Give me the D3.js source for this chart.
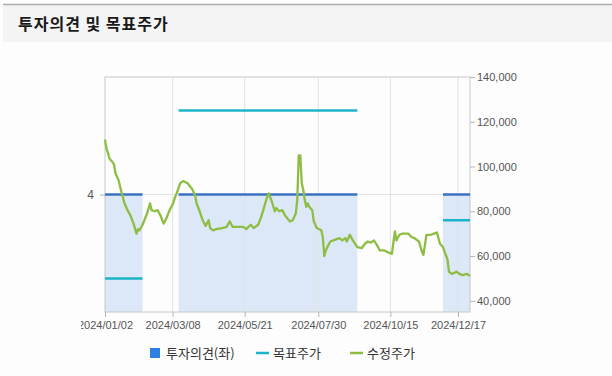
<!DOCTYPE html>
<html>
<head>
<meta charset="utf-8">
<script src="https://cdn.jsdelivr.net/npm/d3@7"></script>
<style>
  body { margin: 0; background: #fdfdfd; }
  svg { display: block; font-family: Arial, "Liberation Sans", sans-serif; }
</style>
</head>
<body>
<svg id="chart" width="612" height="376"></svg>
<script>
// trading-day index (0 = 2024/01/02, 243 = 2024/12/30)
const tickDays = [0, 45, 93, 142, 190, 235];
const tickLabels = ["2024/01/02", "2024/03/08", "2024/05/21", "2024/07/30", "2024/10/15", "2024/12/17"];
const priceTicks = [40000, 60000, 80000, 100000, 120000, 140000];

// 수정주가
const priceDays = [0, 1, 2, 3, 5, 6, 7, 9, 11, 13, 15, 17, 19, 21, 22, 23, 25, 28, 30, 31, 33, 35, 37,
    39, 41, 43, 45, 47, 48, 50, 52, 55, 58, 60, 61, 63, 65, 67, 69, 70, 72, 74, 78,
    81, 83, 85, 89, 92, 94, 97, 99, 102, 104, 106, 108, 109, 111, 113, 114, 116, 118, 120, 123,
    125, 127, 128, 129, 130, 131, 132, 133, 134, 135, 136, 138, 139, 141, 144, 145, 146, 147, 148, 150,
    152, 156, 158, 160, 161, 163, 165, 168, 171, 173, 175, 177, 179, 181, 183, 186, 189, 191, 193, 194,
    196, 198, 202, 204, 206, 209, 211, 212, 213, 214, 217, 219, 221, 223, 225, 226, 228, 229, 231, 234,
    236, 238, 241, 243];
const priceValues = [112000, 108000, 106000, 103500, 102000, 101000, 97000, 94000, 88500, 83500, 80500, 78000, 74500, 70000, 72000, 71500, 74000, 79000, 83500, 80500, 80000, 80500, 78000,
    74500, 77000, 80500, 83000, 87000, 88500, 92500, 93500, 92500, 90000, 87000, 83500, 80000, 76000, 73500, 76000, 72500, 71500, 72000, 72500,
    73000, 75500, 73000, 73000, 73000, 72000, 74000, 72500, 74000, 77500, 82000, 86500, 88000, 84500, 80000, 81500, 80000, 80500, 78000, 75500,
    76000, 79000, 85000, 105000, 105000, 92500, 89500, 85000, 82000, 83500, 82000, 80500, 75500, 72500, 71500, 68500, 60000, 62500, 64000, 66500,
    67000, 68000, 67000, 68000, 66500, 69500, 67000, 64000, 63500, 65500, 66500, 66000, 67000, 65000, 62500, 62500, 61500, 61000, 71000, 67000,
    69500, 70000, 70000, 68500, 68000, 66500, 62000, 60500, 65000, 69500, 69500, 70000, 70500, 65500, 64000, 62000, 58500, 53000, 52000, 53000,
    52000, 51500, 52000, 51000];

// 투자의견 / 목표주가 periods
const opinionStart = [0, 49, 225];
const opinionEnd = [25, 168, 243];
const opinionValue = [4, 4, 4];
const targetValue = [50000, 125000, 76000];

const svg = d3.select("#chart");
const plot = {left: 105, right: 470, top: 77, bottom: 312};

const x = d3.scaleLinear().domain([0, 243]).range([plot.left, plot.right]);
const y = d3.scaleLinear().domain([35000, 140000]).range([plot.bottom, plot.top]);
const yOp = d3.scaleLinear().domain([0, 8]).range([plot.bottom, plot.top]);

// header
svg.append("rect").attr("x", 0).attr("y", 0).attr("width", 612).attr("height", 376).attr("fill", "#fdfdfd");
svg.append("rect").attr("x", 3).attr("y", 5).attr("width", 609).attr("height", 37).attr("fill", "#f4f4f4");
svg.append("line").attr("x1", 3).attr("x2", 612).attr("y1", 4.5).attr("y2", 4.5)
    .attr("stroke", "#adadad").attr("stroke-width", 1.5);
svg.append("text").attr("x", 18).attr("y", 30)
    .attr("font-family", "'Noto Sans CJK KR', sans-serif")
    .attr("font-size", 16).attr("font-weight", 700).attr("letter-spacing", 1)
    .attr("fill", "#1a1a1a")
    .text("투자의견 및 목표주가");

const periods = opinionStart.map((s, i) => ({
    start: s, end: opinionEnd[i], op: opinionValue[i], target: targetValue[i]
}));

// opinion area
svg.append("g").selectAll("rect").data(periods).join("rect")
    .attr("x", d => x(d.start))
    .attr("width", d => x(d.end) - x(d.start))
    .attr("y", d => yOp(d.op))
    .attr("height", d => plot.bottom - yOp(d.op))
    .attr("fill", "#dce7f7");

// grid
svg.append("g").selectAll("line").data(tickDays.slice(1)).join("line")
    .attr("x1", d => x(d)).attr("x2", d => x(d))
    .attr("y1", plot.top).attr("y2", plot.bottom)
    .attr("stroke", "#e3e3e3");
svg.append("line")
    .attr("x1", plot.left).attr("x2", plot.right)
    .attr("y1", yOp(4)).attr("y2", yOp(4))
    .attr("stroke", "#e3e3e3");

// frame
svg.append("rect")
    .attr("x", plot.left).attr("y", plot.top)
    .attr("width", plot.right - plot.left).attr("height", plot.bottom - plot.top)
    .attr("fill", "none").attr("stroke", "#c8c8c8");

// 목표주가
svg.append("g").selectAll("line").data(periods).join("line")
    .attr("x1", d => x(d.start)).attr("x2", d => x(d.end))
    .attr("y1", d => y(d.target)).attr("y2", d => y(d.target))
    .attr("stroke", "#1cb4c9").attr("stroke-width", 2.5);

// 투자의견
svg.append("g").selectAll("line").data(periods).join("line")
    .attr("x1", d => x(d.start)).attr("x2", d => x(d.end))
    .attr("y1", d => yOp(d.op)).attr("y2", d => yOp(d.op))
    .attr("stroke", "#3a72c2").attr("stroke-width", 2.5);

// 수정주가
const priceData = priceDays.map((d, i) => [d, priceValues[i]]);
svg.append("path")
    .datum(priceData)
    .attr("fill", "none")
    .attr("stroke", "#8dbd42")
    .attr("stroke-width", 2.3)
    .attr("stroke-linejoin", "round")
    .attr("d", d3.line().x(d => x(d[0])).y(d => y(d[1])));

// axes
const axisRight = svg.append("g")
    .attr("transform", "translate(" + plot.right + ",0)")
    .call(d3.axisRight(y).tickValues(priceTicks).tickFormat(d3.format(",")).tickSize(5).tickPadding(2));
const axisLeft = svg.append("g")
    .attr("transform", "translate(" + plot.left + ",0)")
    .call(d3.axisLeft(yOp).tickValues([4]).tickSize(5).tickPadding(6));

svg.append("clipPath").attr("id", "clip")
    .append("rect").attr("x", 81).attr("y", 0).attr("width", 531).attr("height", 376);
const axisBottom = svg.append("g")
    .attr("clip-path", "url(#clip)")
    .append("g")
    .attr("transform", "translate(0," + plot.bottom + ")")
    .call(d3.axisBottom(x).tickValues(tickDays).tickFormat((d, i) => tickLabels[i]).tickSize(5).tickPadding(4));

[axisRight, axisLeft, axisBottom].forEach(g => {
    g.select(".domain").remove();
    g.selectAll(".tick line").attr("stroke", "#b5b5b5");
    g.selectAll(".tick text").attr("fill", "#555").attr("font-size", 11)
        .attr("font-family", "Arial, 'Liberation Sans', sans-serif");
});
axisLeft.selectAll(".tick text").attr("font-size", 12);

// legend
const legend = svg.append("g")
    .attr("font-family", "'Noto Sans CJK KR', sans-serif")
    .attr("font-size", 13).attr("fill", "#333");
legend.append("rect").attr("x", 150).attr("y", 348).attr("width", 10).attr("height", 10).attr("fill", "#2d7fe0");
legend.append("text").attr("x", 166).attr("y", 358).text("투자의견(좌)");
legend.append("line").attr("x1", 256).attr("x2", 269).attr("y1", 353).attr("y2", 353)
    .attr("stroke", "#1cb4c9").attr("stroke-width", 2.5);
legend.append("text").attr("x", 273).attr("y", 358).text("목표주가");
legend.append("line").attr("x1", 350).attr("x2", 363).attr("y1", 353).attr("y2", 353)
    .attr("stroke", "#8dbd42").attr("stroke-width", 2.5);
legend.append("text").attr("x", 367).attr("y", 358).text("수정주가");
</script>
</body>
</html>
